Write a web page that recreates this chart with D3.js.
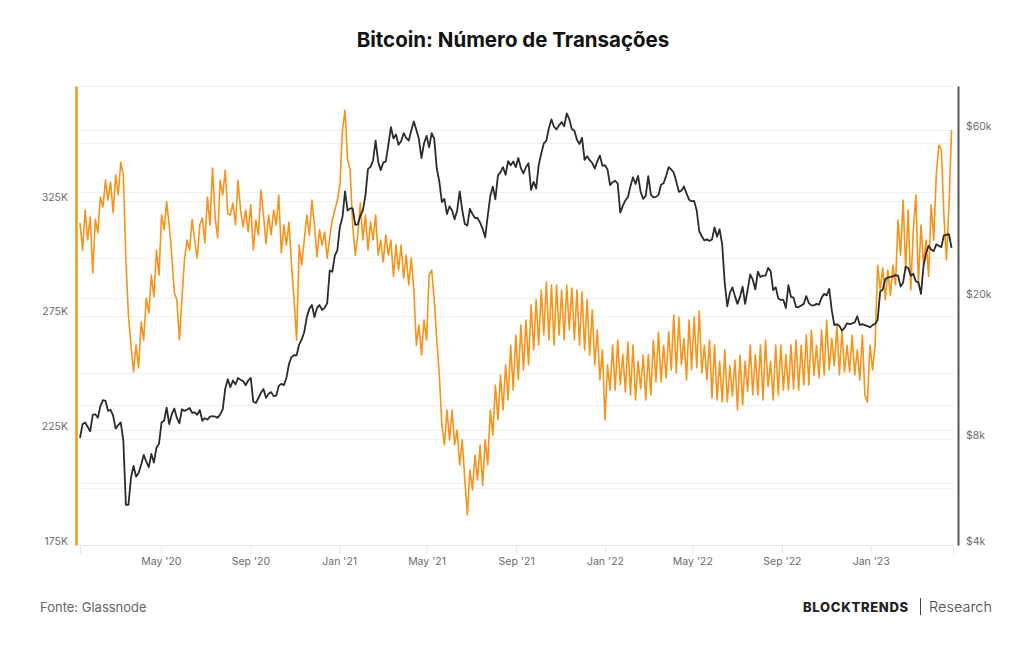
<!DOCTYPE html>
<html>
<head>
<meta charset="utf-8">
<script src="https://cdn.jsdelivr.net/npm/d3@7"></script>
<style>
  html, body { margin: 0; padding: 0; background: #fff; }
  svg { display: block; font-family: Inter, "Noto Sans", sans-serif; }
</style>
</head>
<body>
<svg id="chart" width="1024" height="645"></svg>
<script>
// Series sampled every 3.5 days starting 2020-01-11 (half-week steps)
const startDate = '2020-01-11';
const stepDays = 3.5;

// Daily transaction count, thousands
const txK = [
  315.3, 303.5, 321.0, 307.9, 317.9, 293.5, 316.9, 311.0, 326.6, 322.3,
  334.0, 325.3, 333.2, 319.7, 336.2, 327.5, 341.9, 336.2, 299.2, 275.2,
  262.1, 250.4, 262.1, 252.1, 272.2, 264.3, 282.6, 276.1, 292.6, 283.1,
  303.5, 292.6, 318.8, 312.3, 324.5, 314.4, 301.3, 285.2, 281.8, 264.3,
  282.6, 299.2, 307.9, 303.5, 316.9, 307.9, 300.0, 314.4, 317.5, 306.6,
  326.6, 314.4, 339.3, 317.9, 308.8, 334.0, 327.5, 338.4, 319.2, 318.8,
  324.0, 314.4, 334.0, 321.0, 313.6, 321.0, 311.4, 323.2, 303.5, 316.6,
  310.1, 329.7, 318.8, 306.2, 318.8, 310.1, 321.0, 314.4, 327.5, 302.2,
  314.4, 305.7, 315.7, 297.0, 281.8, 264.3, 305.7, 297.0, 307.9, 318.8,
  310.1, 325.3, 314.4, 300.5, 312.3, 305.7, 311.4, 300.0, 309.2, 316.6,
  321.0, 325.3, 331.9, 355.8, 364.5, 342.8, 338.4, 314.4, 301.3, 310.1,
  324.0, 307.9, 318.8, 303.5, 315.7, 307.9, 318.8, 301.3, 307.9, 298.3,
  310.1, 301.3, 307.9, 292.0, 305.7, 294.8, 305.7, 291.3, 301.3, 288.3,
  300.0, 286.1, 262.1, 270.8, 257.8, 273.0, 264.3, 292.6, 294.8, 281.8,
  264.3, 249.1, 227.3, 218.6, 233.8, 220.8, 233.8, 218.6, 225.1, 209.9,
  220.8, 203.3, 188.1, 207.7, 199.0, 214.2, 203.3, 218.6, 201.1, 220.8,
  209.9, 233.8, 222.9, 244.7, 229.5, 249.1, 233.8, 253.5, 238.2, 262.1,
  242.5, 266.5, 246.9, 270.8, 251.3, 273.0, 253.5, 279.6, 260.0, 281.8,
  262.1, 286.1, 266.5, 289.6, 264.3, 288.3, 262.1, 288.3, 266.5, 286.1,
  264.3, 288.3, 268.7, 287.0, 264.3, 286.1, 262.1, 285.2, 260.0, 281.8,
  257.8, 277.4, 253.5, 268.7, 246.9, 260.0, 229.5, 253.5, 242.5, 262.1,
  242.5, 264.3, 244.7, 258.0, 241.7, 263.4, 240.4, 262.1, 238.2, 255.0,
  243.0, 257.8, 238.2, 258.0, 240.4, 264.3, 246.0, 267.8, 246.0, 262.0,
  247.8, 268.0, 251.3, 275.2, 250.0, 274.3, 253.5, 265.0, 246.9, 273.0,
  251.3, 274.3, 252.1, 276.9, 250.0, 262.0, 246.9, 264.3, 239.1, 262.1,
  238.2, 255.0, 237.3, 260.0, 237.3, 253.0, 240.0, 255.6, 233.8, 257.8,
  236.0, 255.0, 242.0, 262.1, 240.4, 258.0, 240.4, 262.1, 238.2, 264.3,
  244.0, 255.0, 238.2, 262.1, 240.4, 262.1, 242.5, 258.0, 242.5, 262.1,
  243.0, 264.3, 242.5, 262.0, 244.7, 266.5, 244.7, 268.7, 249.0, 262.0,
  247.8, 268.7, 249.1, 273.0, 251.3, 265.0, 253.0, 270.8, 249.1, 268.7,
  250.4, 262.0, 250.4, 266.5, 249.1, 260.0, 246.9, 266.5, 240.4, 237.3,
  262.1, 251.3, 262.1, 297.0, 286.1, 295.7, 281.8, 294.8, 283.9, 297.0,
  288.3, 316.6, 301.3, 325.3, 294.8, 321.0, 286.1, 312.3, 327.5, 288.3,
  314.4, 297.0, 307.9, 292.0, 323.2, 307.9, 336.2, 349.3, 347.1, 318.8,
  299.2, 323.2, 355.8
];

// BTC price, USD
const btcUsd = [
  8040, 8800, 8900, 8650, 8400, 9350, 9390, 9180, 9900, 10300,
  10250, 9600, 9670, 9300, 8550, 8750, 8900, 7900, 5200, 5200,
  6200, 6700, 6250, 6400, 6750, 7200, 6900, 6650, 7250, 6850,
  7550, 7750, 8900, 9000, 9800, 8800, 9380, 9750, 9180, 8850,
  9700, 9600, 9670, 9780, 9480, 9510, 9360, 9650, 9000, 9150,
  9070, 9250, 9280, 9250, 9170, 9380, 9700, 11100, 11800, 11200,
  11700, 11400, 11900, 11750, 11660, 11350, 11700, 11900, 10200, 10100,
  10440, 10800, 11080, 10450, 10730, 10850, 10570, 10600, 11300, 11450,
  11360, 11900, 13030, 13650, 13800, 13800, 14800, 15300, 16070, 17700,
  18680, 19150, 17700, 18800, 19150, 18550, 18800, 19400, 24000, 23800,
  26450, 27400, 32000, 34000, 40200, 35500, 36000, 36000, 32300, 32400,
  34300, 35500, 39200, 46500, 47200, 49200, 56000, 48900, 46200, 48500,
  48900, 54500, 61200, 56800, 58300, 54500, 55800, 58800, 57000, 56000,
  59800, 63500, 60000, 56500, 50000, 55000, 57800, 53600, 58800, 56700,
  46700, 42900, 37500, 38300, 34700, 36500, 35500, 33500, 35500, 40200,
  35600, 32500, 32200, 35900, 34700, 33800, 33800, 32800, 31500, 29800,
  34300, 39000, 41500, 38200, 44600, 45600, 47100, 44800, 49000, 47700,
  48900, 47100, 50000, 46800, 45200, 47100, 48300, 40600, 42800, 41000,
  47700, 51500, 55000, 56000, 60800, 64300, 61300, 60300, 61900, 63200,
  61500, 66900, 64400, 60400, 59700, 56300, 54800, 57000, 49400, 50600,
  49300, 48400, 46700, 48900, 50800, 47500, 47700, 46400, 41900, 42700,
  43100, 42300, 35000, 36600, 37900, 38700, 41600, 44100, 42200, 44500,
  40100, 38300, 39100, 44400, 39400, 38700, 38800, 39300, 42000, 42400,
  44500, 47100, 46400, 45500, 42800, 40100, 40400, 41500, 39700, 38100,
  37700, 37800, 35500, 31000, 30000, 29200, 29400, 29100, 29400, 31800,
  29900, 31400, 28400, 22100, 19000, 20700, 21500, 20300, 19300, 20200,
  21600, 19300, 21200, 23400, 22600, 21200, 23800, 23000, 23200, 23200,
  24400, 23900, 21100, 21500, 20000, 19800, 19800, 18800, 21800, 20200,
  20100, 18900, 18900, 19100, 19300, 20300, 19400, 19100, 19100, 19300,
  19200, 20100, 20600, 20400, 21300, 18500, 16800, 16900, 16700, 16200,
  16500, 17000, 16900, 17000, 17100, 17800, 16800, 16900, 16800, 16700,
  16550, 16800, 16950, 17400, 20900, 21200, 22700, 22900, 23000, 23100,
  23300, 23200, 21600, 22200, 24600, 24400, 23200, 23500, 22350, 22200,
  20600, 24700, 26900, 28200, 27500, 27200, 28450, 28200, 27950, 30200,
  30300, 30400, 27800
];

const xDomain = ['2020-01-11', '2023-04-24'];
const txTicks = [175, 225, 275, 325];
const txGrid = [175, 200, 225, 250, 275, 300, 325, 350, 375];
const priceTicks = [4000, 8000, 20000, 60000];
const priceGrid = [4000, 6000, 8000, 10000, 20000, 40000, 60000];

const Plot = { Left: 80, Right: 953, Top: 86, Bottom: 545 };
const Colors = { Tx: '#f7931a', Price: '#2b2b2b', Grid: '#efefef', Label: '#6b6b6b' };

const parse = d3.utcParse('%Y-%m-%d');
const t0 = parse(startDate).getTime();
const dates = txK.map((_, i) => new Date(t0 + i * stepDays * 864e5));

const x = d3.scaleUtc()
    .domain(xDomain.map(parse))
    .range([Plot.Left, Plot.Right]);
const yTx = d3.scaleLinear()
    .domain([175, 375])
    .range([Plot.Bottom, Plot.Top]);
const yPrice = d3.scaleLog()
    .domain([4000, 80000])
    .range([Plot.Bottom, Plot.Top]);

const svg = d3.select('#chart');

// Title
svg.append('text')
    .attr('x', 513)
    .attr('y', 47)
    .attr('text-anchor', 'middle')
    .style('font-size', '20.5px')
    .style('font-weight', 700)
    .attr('fill', '#111')
    .text('Bitcoin: Número de Transações');

// Grid lines (both axes)
const grid = svg.append('g')
    .attr('stroke', Colors.Grid)
    .attr('stroke-width', 1);
grid.selectAll('line.tx')
    .data(txGrid)
    .join('line')
    .attr('class', 'tx')
    .attr('x1', Plot.Left)
    .attr('x2', Plot.Right)
    .attr('y1', d => Math.round(yTx(d)) + 0.5)
    .attr('y2', d => Math.round(yTx(d)) + 0.5);
grid.selectAll('line.price')
    .data(priceGrid)
    .join('line')
    .attr('class', 'price')
    .attr('x1', Plot.Left)
    .attr('x2', Plot.Right)
    .attr('y1', d => Math.round(yPrice(d)) + 0.5)
    .attr('y2', d => Math.round(yPrice(d)) + 0.5);

// X axis
const xAxis = svg.append('g')
    .attr('transform', `translate(0, ${Plot.Bottom})`)
    .call(d3.axisBottom(x)
        .ticks(d3.utcMonth.every(4))
        .tickFormat(d3.utcFormat("%b '%y"))
        .tickSize(9)
        .tickPadding(4));
xAxis.select('.domain').attr('stroke', '#e6e6e6');
xAxis.selectAll('.tick line').attr('stroke', '#e6e6e6');
xAxis.selectAll('.tick text')
    .attr('fill', Colors.Label)
    .style('font-size', '10.5px')
    .style('font-family', 'Inter, sans-serif');

// Left axis (transactions)
const leftAxis = svg.append('g')
    .attr('transform', `translate(${Plot.Left - 4}, 0)`)
    .call(d3.axisLeft(yTx)
        .tickValues(txTicks)
        .tickFormat(d => `${d}K`)
        .tickSize(0)
        .tickPadding(8));
leftAxis.select('.domain')
    .attr('stroke', Colors.Tx)
    .attr('stroke-width', 2.5);
leftAxis.selectAll('.tick text')
    .attr('dy', '-0.05em')
    .attr('fill', Colors.Label)
    .style('font-size', '10.5px')
    .style('font-family', 'Inter, sans-serif');

// Right axis (price)
const rightAxis = svg.append('g')
    .attr('transform', `translate(${Plot.Right + 5}, 0)`)
    .call(d3.axisRight(yPrice)
        .tickValues(priceTicks)
        .tickFormat(d => `$${d / 1000}k`)
        .tickSize(0)
        .tickPadding(8));
rightAxis.select('.domain')
    .attr('stroke', '#555')
    .attr('stroke-width', 2);
rightAxis.selectAll('.tick text')
    .attr('dy', '-0.05em')
    .attr('fill', Colors.Label)
    .style('font-size', '10.5px')
    .style('font-family', 'Inter, sans-serif');

// Lines
const txLine = d3.line()
    .x((d, i) => x(dates[i]))
    .y(d => yTx(d));
const priceLine = d3.line()
    .x((d, i) => x(dates[i]))
    .y(d => yPrice(d));

svg.append('path')
    .datum(txK)
    .attr('fill', 'none')
    .attr('stroke', Colors.Tx)
    .attr('stroke-width', 1.6)
    .attr('stroke-linejoin', 'round')
    .attr('d', txLine);

svg.append('path')
    .datum(btcUsd)
    .attr('fill', 'none')
    .attr('stroke', Colors.Price)
    .attr('stroke-width', 1.8)
    .attr('stroke-linejoin', 'round')
    .attr('d', priceLine);

// Footer
svg.append('text')
    .attr('x', 40)
    .attr('y', 612)
    .attr('fill', '#666')
    .style('font-size', '13px')
    .text('Fonte: Glassnode');

const brand = svg.append('g').attr('transform', 'translate(803, 612)');
brand.append('text')
    .attr('x', 0)
    .attr('fill', '#222')
    .style('font-size', '13px')
    .style('font-weight', 800)
    .style('letter-spacing', '0.7px')
    .text('BLOCKTRENDS');
brand.append('line')
    .attr('x1', 117.5).attr('x2', 117.5)
    .attr('y1', -14).attr('y2', 3)
    .attr('stroke', '#444')
    .attr('stroke-width', 1);
brand.append('text')
    .attr('x', 126)
    .attr('fill', '#444')
    .style('font-size', '14.5px')
    .style('font-weight', 300)
    .text('Research');
</script>
</body>
</html>
